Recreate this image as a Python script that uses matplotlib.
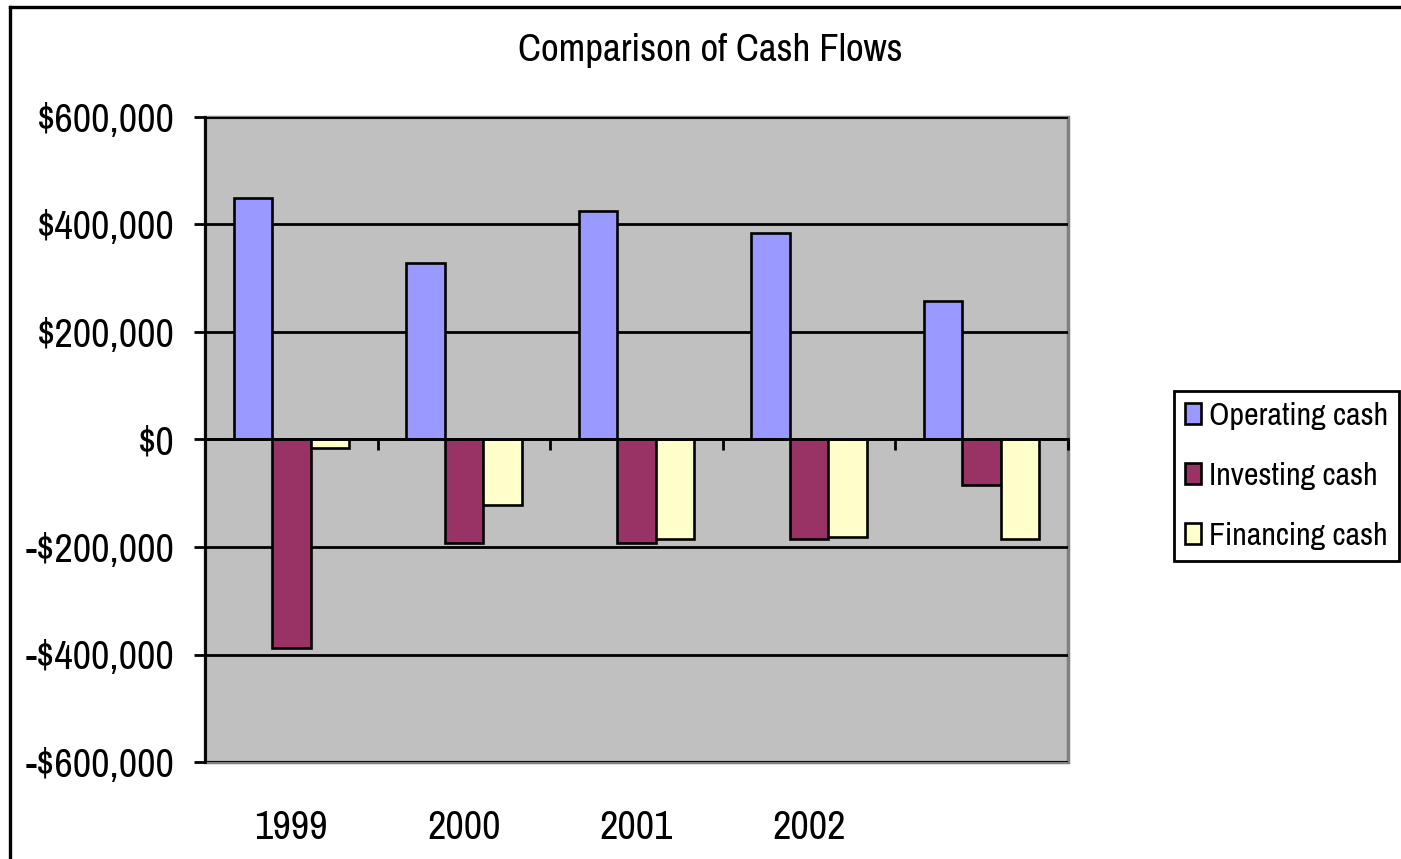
import numpy as np
import matplotlib.pyplot as plt
from matplotlib.lines import Line2D
from matplotlib.ticker import FuncFormatter

# chart data
years = ['1999', '2000', '2001', '2002', '']
operating = [450000, 329000, 426000, 385000, 258000]
investing = [-388000, -192000, -192000, -185000, -85000]
financing = [-15000, -122000, -185000, -181000, -185000]
series_names = ['Operating cash', 'Investing cash', 'Financing cash']
colors = ['#9999FF', '#993366', '#FFFFCC']

plt.rcParams['font.family'] = ['Archivo Narrow', 'DejaVu Sans']
fsize = 29

fig = plt.figure(figsize=(14.01, 8.59), dpi=100)
ax = fig.add_axes([205 / 1401, 1 - 762 / 859, 863 / 1401, 645 / 859])
ax.set_facecolor('#C0C0C0')
ax.patch.set_edgecolor('#808080')
ax.patch.set_linewidth(2.5)

x = np.arange(len(years)) + 0.5
w = 0.223
for k, vals in enumerate([operating, investing, financing]):
    ax.bar(x + (k - 1) * w, vals, width=w, color=colors[k], edgecolor='black',
           linewidth=1.9, label=series_names[k], zorder=3)

ax.set_xlim(0, len(years))
ax.set_ylim(-600000, 600000)
ax.set_yticks(np.arange(-600000, 600001, 200000))
ax.yaxis.set_major_formatter(FuncFormatter(
    lambda v, p: ('-$' if v < 0 else '$') + format(int(abs(v)), ',')))
ax.tick_params(axis='y', labelsize=fsize, length=8, width=2, pad=14)
ax.grid(axis='y', color='black', linewidth=2, zorder=1)
ax.set_axisbelow(True)

# category axis sits on the zero line
ax.spines['bottom'].set_position(('data', 0))
ax.spines['bottom'].set_linewidth(2)
ax.spines['bottom'].set_zorder(4)
ax.spines['left'].set_linewidth(2)
ax.spines['top'].set_visible(False)
ax.spines['right'].set_visible(False)
ax.set_xticks(np.arange(1, len(years) + 1))
ax.set_xticklabels([])
ax.tick_params(axis='x', length=8, width=2, direction='out')
for xi, lab in zip(x, years):
    ax.text(xi, -0.102, lab, transform=ax.get_xaxis_transform(),
            ha='center', va='center', fontsize=fsize)

fig.text(710 / 1401, 1 - 50 / 859, 'Comparison of Cash Flows',
         ha='center', va='center', fontsize=28)

leg = fig.legend(loc='center right', bbox_to_anchor=(1399 / 1401, 1 - 476 / 859),
                 fontsize=23, frameon=True, fancybox=False, framealpha=1,
                 edgecolor='black', handlelength=0.5, handleheight=0.65,
                 handletextpad=0.25, borderpad=0.35, labelspacing=1.0,
                 borderaxespad=0)
leg.get_frame().set_linewidth(2)

# chart border (left and top edges visible)
fig.add_artist(Line2D([9.5 / 1401, 9.5 / 1401], [0, 1 - 6.5 / 859],
                      transform=fig.transFigure, color='black', linewidth=2.4))
fig.add_artist(Line2D([9.5 / 1401, 1], [1 - 6.5 / 859, 1 - 6.5 / 859],
                      transform=fig.transFigure, color='black', linewidth=2.4))

fig.savefig('out.png', dpi=100)
